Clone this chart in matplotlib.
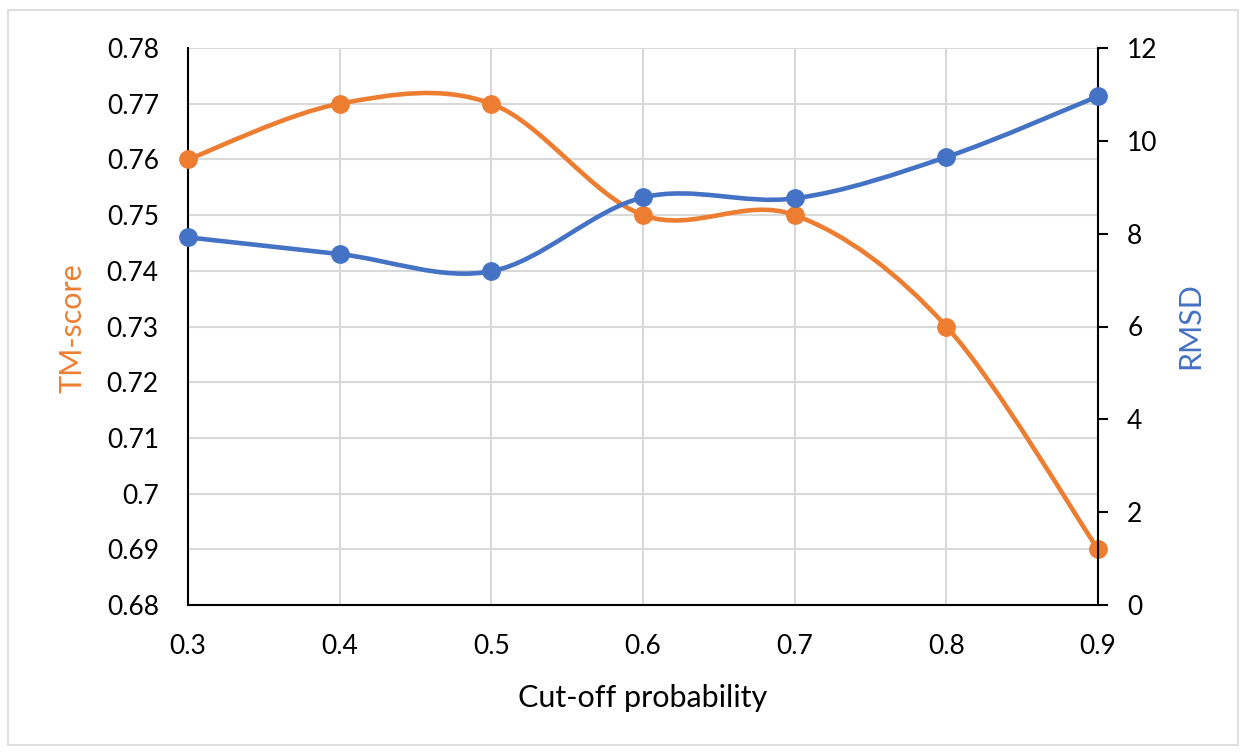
import numpy as np
import matplotlib
matplotlib.use("Agg")
import matplotlib.pyplot as plt
from matplotlib.path import Path
from matplotlib.patches import PathPatch, Rectangle

cutoff = [0.3, 0.4, 0.5, 0.6, 0.7, 0.8, 0.9]
tm_score = [0.76, 0.77, 0.77, 0.75, 0.75, 0.73, 0.69]
rmsd = [7.92, 7.56, 7.19, 8.78, 8.76, 9.65, 10.96]
x_ticks = [0.3, 0.4, 0.5, 0.6, 0.7, 0.8, 0.9]
x_tick_labels = ["0.3", "0.4", "0.5", "0.6", "0.7", "0.8", "0.9"]
left_ticks = [0.68, 0.69, 0.70, 0.71, 0.72, 0.73, 0.74, 0.75, 0.76, 0.77, 0.78]
left_tick_labels = ["0.68", "0.69", "0.7", "0.71", "0.72", "0.73", "0.74", "0.75", "0.76", "0.77", "0.78"]
right_ticks = [0, 2, 4, 6, 8, 10, 12]

ORANGE = "#ED7D31"
BLUE = "#4472C4"
plt.rcParams['font.family'] = ['Lato', 'DejaVu Sans']
FS = 19
FS_T = 22


def smooth_path(xs, ys, tension=1.0 / 6.0):
    xs = np.asarray(xs, float)
    ys = np.asarray(ys, float)
    n = len(xs)
    verts = [(xs[0], ys[0])]
    codes = [Path.MOVETO]
    for i in range(n - 1):
        p0 = i - 1 if i > 0 else i
        p3 = i + 2 if i + 2 < n else i + 1
        c1 = (xs[i] + (xs[i + 1] - xs[p0]) * tension, ys[i] + (ys[i + 1] - ys[p0]) * tension)
        c2 = (xs[i + 1] - (xs[p3] - xs[i]) * tension, ys[i + 1] - (ys[p3] - ys[i]) * tension)
        verts += [c1, c2, (xs[i + 1], ys[i + 1])]
        codes += [Path.CURVE4] * 3
    return Path(verts, codes)


fig = plt.figure(figsize=(12.44, 7.53), dpi=100)
fig.patches.append(Rectangle((8 / 1244, 1 - 745 / 753), 1230 / 1244, 735 / 753,
                             transform=fig.transFigure, fill=False,
                             edgecolor="#D9D9D9", linewidth=1.2))
ax = fig.add_axes([188 / 1244, 1 - 605 / 753, 910 / 1244, 557 / 753])
ax2 = ax.twinx()

ax.set_xlim(0.3, 0.9)
ax.set_ylim(0.68, 0.78)
ax2.set_ylim(0, 12)

ax.set_xticks(x_ticks)
ax.set_xticklabels(x_tick_labels, fontsize=FS)
ax.set_yticks(left_ticks)
ax.set_yticklabels(left_tick_labels, fontsize=FS)
ax2.set_yticks(right_ticks)
ax2.set_yticklabels([str(t) for t in right_ticks], fontsize=FS)

ax.grid(True, color="#D9D9D9", linewidth=1.5)
ax.set_axisbelow(True)
ax.tick_params(axis='x', length=0, pad=21)
ax.tick_params(axis='y', length=0, pad=21)
ax2.tick_params(axis='y', length=7, width=1.5, direction='out', pad=14)

ax.spines['top'].set_visible(False)
ax2.spines['top'].set_visible(False)
ax.spines['right'].set_visible(False)
ax.spines['left'].set_linewidth(1.5)
ax.spines['bottom'].set_linewidth(1.5)
ax2.spines['right'].set_linewidth(1.5)
ax2.spines['left'].set_visible(False)
ax2.spines['bottom'].set_visible(False)

ax.add_patch(PathPatch(smooth_path(cutoff, tm_score), fill=False, edgecolor=ORANGE,
                       linewidth=3.3, capstyle='round', joinstyle='round', zorder=3))
ax.plot(cutoff, tm_score, linestyle='none', marker='o', markersize=12.5, color=ORANGE,
        zorder=4, clip_on=False)
ax2.add_patch(PathPatch(smooth_path(cutoff, rmsd), fill=False, edgecolor=BLUE,
                        linewidth=3.3, capstyle='round', joinstyle='round', zorder=3))
ax2.plot(cutoff, rmsd, linestyle='none', marker='o', markersize=12.5, color=BLUE,
         zorder=4, clip_on=False)

fig.text(643 / 1244, 1 - 707 / 753, "Cut-off probability", fontsize=FS_T,
         ha='center', va='baseline')
fig.text(72 / 1244, 1 - 328 / 753, "TM-score", color=ORANGE, fontsize=FS_T,
         rotation=90, ha='center', va='center')
fig.text(1190 / 1244, 1 - 326 / 753, "RMSD", color=BLUE, fontsize=FS_T,
         rotation=90, ha='center', va='center')

fig.savefig("out.png", dpi=100)
